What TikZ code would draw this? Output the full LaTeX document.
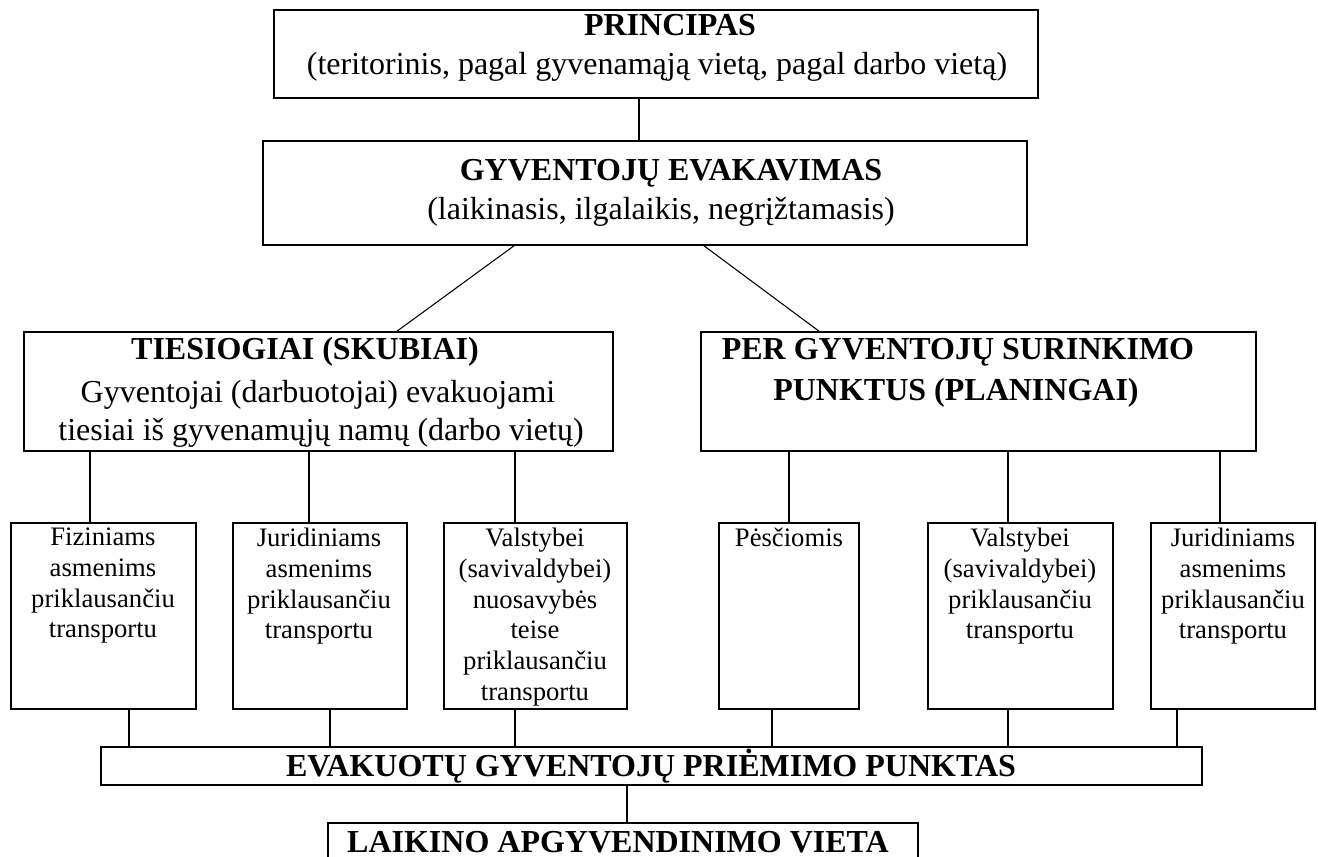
\documentclass[tikz,border=0pt]{standalone}
\usepackage{fontspec}
\setmainfont{Liberation Serif}
\begin{document}
\begin{tikzpicture}[x=0.75pt,y=-0.75pt,
  box/.style={draw, line width=1.2pt, inner sep=0},
  sbox/.style={draw, line width=1.4pt, inner sep=0, minimum height=139.5pt},
  conn/.style={line width=0.8pt},
  big/.style={inner sep=0, font=\fontsize{24}{28}\selectfont},
  bigb/.style={inner sep=0, font=\fontsize{24}{28}\selectfont\bfseries},
  small/.style={inner sep=0, anchor=north, align=center, font=\fontsize{20}{23}\selectfont}]
\useasboundingbox (0,0) rectangle (1318,857);
\clip (0,0) rectangle (1318,857);
% boxes
\node[box, minimum width=573pt, minimum height=66pt] (princ) at (656,54) {};
\node[box, minimum width=573pt, minimum height=78pt] (gyv) at (645,193) {};
\node[box, minimum width=441.75pt, minimum height=89.25pt] (ties) at (318.5,391.5) {};
\node[box, minimum width=416.25pt, minimum height=89.25pt] (per) at (978.5,391.5) {};
\node[sbox, minimum width=138.75pt] (s1) at (103.5,616) {};
\node[sbox, minimum width=130.5pt] (s2) at (320,616) {};
\node[sbox, minimum width=137.25pt] (s3) at (535.5,616) {};
\node[sbox, minimum width=105pt] (s4) at (789,616) {};
\node[sbox, minimum width=138.75pt] (s5) at (1020.5,616) {};
\node[sbox, minimum width=123pt] (s6) at (1233,616) {};
\node[box, line width=1.4pt, minimum width=825.75pt, minimum height=28.5pt] (evak) at (651.5,766) {};
\node[box, line width=1.4pt, minimum width=442.5pt, minimum height=45pt] (laik) at (623,853) {};
% texts
\node[bigb] (t1) at (670,25) {PRINCIPAS};
\node[big] (t2) at (657,67) {(teritorinis, pagal gyvenamąją vietą, pagal darbo vietą)};
\node[bigb] (t3) at (671,173) {GYVENTOJŲ EVAKAVIMAS};
\node[big] (t4) at (661,212) {(laikinasis, ilgalaikis, negrįžtamasis)};
\node[bigb] (t5) at (305,352) {TIESIOGIAI (SKUBIAI)};
\node[big] (t6) at (318,395) {Gyventojai (darbuotojai) evakuojami};
\node[big] (t7) at (321,433) {tiesiai iš gyvenamųjų namų (darbo vietų)};
\node[bigb] (t8) at (958,352) {PER GYVENTOJŲ SURINKIMO};
\node[bigb] (t9) at (956,393) {PUNKTUS (PLANINGAI)};
\node[small] (u1) at (103,528) {Fiziniams\\asmenims\\priklausančiu\\transportu};
\node[small] (u2) at (319,528) {Juridiniams\\asmenims\\priklausančiu\\transportu};
\node[small] (u3) at (535,528) {Valstybei\\(savivaldybei)\\nuosavybės\\teise\\priklausančiu\\transportu};
\node[small] (u4) at (789,528) {Pėsčiomis};
\node[small] (u5) at (1020,528) {Valstybei\\(savivaldybei)\\priklausančiu\\transportu};
\node[small] (u6) at (1233,528) {Juridiniams\\asmenims\\priklausančiu\\transportu};
\node[bigb] (t10) at (651,766) {EVAKUOTŲ GYVENTOJŲ PRIĖMIMO PUNKTAS};
\node[bigb] (t11) at (618,842) {LAIKINO APGYVENDINIMO VIETA};
% connectors
\draw[conn] (princ.south -| 639,0) -- (gyv.north -| 639,0);
\draw[conn] ([xshift=-98.25pt]gyv.south) -- ([xshift=58.875pt]ties.north);
\draw[conn] ([xshift=44.25pt]gyv.south) -- ([xshift=-119.625pt]per.north);
\draw[conn] (ties.south -| 90,0) -- (s1.north -| 90,0);
\draw[conn] (ties.south -| 309,0) -- (s2.north -| 309,0);
\draw[conn] (ties.south -| 515,0) -- (s3.north -| 515,0);
\draw[conn] (per.south -| 789,0) -- (s4.north -| 789,0);
\draw[conn] (per.south -| 1008,0) -- (s5.north -| 1008,0);
\draw[conn] (per.south -| 1220,0) -- (s6.north -| 1220,0);
\draw[conn] (s1.south -| 129,0) -- (evak.north -| 129,0);
\draw[conn] (s2.south -| 330,0) -- (evak.north -| 330,0);
\draw[conn] (s3.south -| 515,0) -- (evak.north -| 515,0);
\draw[conn] (s4.south -| 772,0) -- (evak.north -| 772,0);
\draw[conn] (s5.south -| 1008,0) -- (evak.north -| 1008,0);
\draw[conn] (s6.south -| 1177,0) -- (evak.north -| 1177,0);
\draw[conn] (evak.south -| 627,0) -- (laik.north -| 627,0);
\end{tikzpicture}
\end{document}
